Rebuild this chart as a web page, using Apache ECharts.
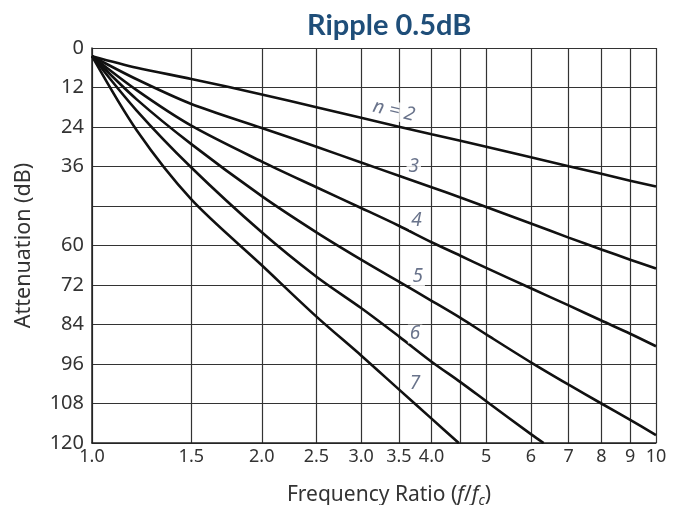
<!DOCTYPE html>
<html>
<head>
<meta charset="utf-8">
<script src="https://cdn.jsdelivr.net/npm/echarts@6/dist/echarts.min.js"></script>
<style>html,body{margin:0;padding:0;background:#fff}#c{width:673px;height:505px}</style>
</head>
<body>
<div id="c"></div>
<script>
// ---- data ----
const freqTicks  = [1, 1.5, 2, 2.5, 3, 3.5, 4, 4.5, 5, 6, 7, 8, 9, 10];
const freqLabelValues = [1, 1.5, 2, 2.5, 3, 3.5, 4, 5, 6, 7, 8, 9, 10];
const freqLabels = ['1.0', '1.5', '2.0', '2.5', '3.0', '3.5', '4.0', '5', '6', '7', '8', '9', '10'];
const hiddenDbLabels = [48];

const freq   = [1, 1.2, 1.5, 2, 2.5, 3, 3.5, 4, 4.5, 5, 6, 7, 8, 9, 10];
const freqN6 = [1, 1.2, 1.5, 2, 2.5, 3, 3.5, 4, 4.5, 5, 6, 6.32];
const freqN7 = [1, 1.2, 1.5, 2, 2.5, 3, 3.5, 4, 4.47];

const attN2 = [2.5, 6.0, 9.4, 14.1, 18.0, 21.2, 23.9, 26.2, 28.2, 30.0, 33.2, 35.9, 38.2, 40.3, 42.1];
const attN3 = [2.5, 9.5, 17.0, 24.3, 30.0, 34.8, 38.8, 42.3, 45.4, 48.3, 53.3, 57.6, 61.2, 64.3, 67.0];
const attN4 = [2.5, 12.8, 23.6, 34.5, 42.3, 48.6, 54.0, 59.0, 63.1, 66.8, 73.0, 78.2, 82.8, 86.8, 90.6];
const attN5 = [2.5, 15.6, 29.2, 45.0, 56.0, 64.3, 71.0, 76.8, 82.0, 87.0, 95.5, 102.3, 108.0, 113.0, 117.6];
const attN6 = [2.5, 19.0, 36.3, 56.0, 69.5, 79.0, 87.6, 95.3, 101.5, 107.3, 117.3, 120];
const attN7 = [2.5, 25.0, 46.0, 66.0, 81.6, 93.4, 103.7, 112.6, 120];

const curveNames  = ['n = 2', '3', '4', '5', '6', '7'];
const labelFreq   = [3.43, 3.72, 3.76, 3.78, 3.74, 3.74];
const labelDb     = [19.1, 36.1, 52.4, 69.5, 86.9, 101.9];

// ---- chart ----
const chart = echarts.init(document.getElementById('c'), null, {renderer: 'canvas'});
const pairs = (xs, ys) => xs.map((x, i) => [x, ys[i]]);
const curveStyle = {color: '#111', width: 2.6};
const mkLine = (name, xs, ys) => ({
  type: 'line', name: name, data: pairs(xs, ys), symbol: 'none',
  smooth: 0.3,
  lineStyle: curveStyle, z: 3, silent: true
});
const FONT = '"Noto Sans", "Open Sans", sans-serif';

chart.setOption({
  animation: false,
  backgroundColor: '#fff',
  title: {
    text: 'Ripple 0.5dB', left: 302, top: 6,
    textStyle: {fontFamily: 'Lato, "Open Sans", sans-serif', fontWeight: 'bold', fontSize: 29, color: '#1f4e79'}
  },
  grid: {left: 92, right: 17, top: 48, bottom: 62, containLabel: false, outerBoundsMode: 'none'},
  xAxis: {
    type: 'log', logBase: 10, min: 1, max: 10,
    axisLine: {show: true, onZero: false, lineStyle: {color: '#222', width: 1.5}},
    axisTick: {show: false, customValues: freqTicks},
    axisLabel: {
      customValues: freqLabelValues,
      formatter: v => { const i = freqLabelValues.findIndex(t => Math.abs(t - v) < 1e-6); return i >= 0 ? freqLabels[i] : ''; },
      fontFamily: FONT, fontSize: 18, color: '#333', margin: 5, showMinLabel: true, showMaxLabel: true
    },
    splitLine: {show: true, lineStyle: {color: '#333', width: 1.2}},
    name: '{t|Frequency Ratio (}{i|f}{t|/}{i|f}{s|c}{t|)}',
    nameLocation: 'middle', nameGap: 40,
    nameTextStyle: {
      padding: [0, 0, 0, 30],
      rich: {
        t: {fontFamily: FONT, fontSize: 21, color: '#333'},
        i: {fontFamily: FONT, fontSize: 21, color: '#333', fontStyle: 'italic'},
        s: {fontFamily: FONT, fontSize: 14, color: '#333', fontStyle: 'italic', padding: [11, 0, 0, 0]}
      }
    }
  },
  yAxis: {
    type: 'value', inverse: true, min: 0, max: 120, interval: 12,
    axisLine: {show: true, lineStyle: {color: '#222', width: 1.5}},
    axisTick: {show: false},
    axisLabel: {
      formatter: v => hiddenDbLabels.includes(v) ? '' : String(v),
      fontFamily: FONT, fontSize: 20, color: '#333', margin: 8, showMinLabel: true, showMaxLabel: true
    },
    splitLine: {show: true, lineStyle: {color: '#333', width: 1.2}},
    name: 'Attenuation (dB)', nameLocation: 'middle', nameGap: 57,
    nameTextStyle: {fontFamily: FONT, fontSize: 21.5, color: '#333'}
  },
  series: [
    mkLine('n2', freq, attN2),
    mkLine('n3', freq, attN3),
    mkLine('n4', freq, attN4),
    mkLine('n5', freq, attN5),
    mkLine('n6', freqN6, attN6),
    mkLine('n7', freqN7, attN7),
    {
      type: 'scatter', symbolSize: 1, itemStyle: {color: 'rgba(0,0,0,0)'}, z: 6, silent: true,
      data: labelFreq.map((f, i) => ({value: [f, labelDb[i]], name: curveNames[i], label: {rotate: i === 0 ? -13 : 0}})),
      label: {
        show: true, position: 'inside', formatter: '{b}',
        fontFamily: FONT, fontSize: 19, fontStyle: 'italic', color: '#44506e',
        backgroundColor: '#fff', padding: [0, 2]
      }
    }
  ]
});
</script>
</body>
</html>
